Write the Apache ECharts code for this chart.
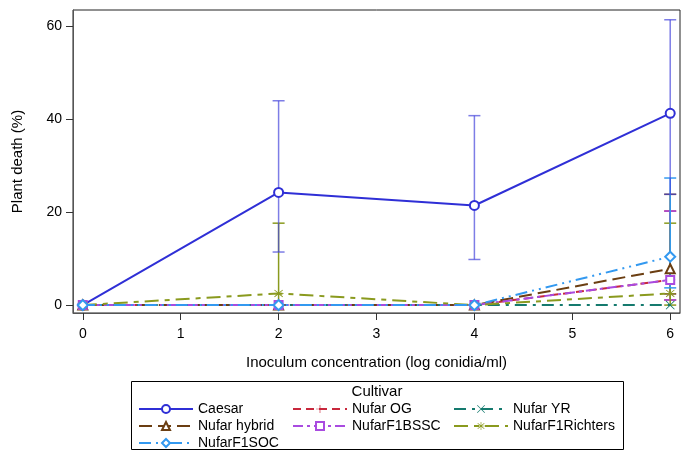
<!DOCTYPE html>
<html>
<head>
<meta charset="utf-8">
<script src="https://cdn.jsdelivr.net/npm/echarts@6/dist/echarts.min.js"></script>
<style>
  html, body { margin: 0; padding: 0; background: #fff; }
  #chart { width: 689px; height: 451px; }
</style>
</head>
<body>
<div id="chart"></div>
<script>
// inoculum concentration (log conidia/ml)
var doses = [0, 2, 4, 6];
var xTicks = [0, 1, 2, 3, 4, 5, 6];
var yTicks = [0, 20, 40, 60];

// plant death (%) per cultivar
var caesar    = [0, 24.2, 21.4, 41.2];
var nufarOG   = [0, 0, 0, 5.4];
var nufarYR   = [0, 0, 0, 0];
var hybrid    = [0, 0, 0, 7.8];
var f1BSSC    = [0, 0, 0, 5.4];
var f1Richt   = [0, 2.5, 0, 2.5];
var f1SOC     = [0, 0, 0, 10.4];

// error bars (lower / upper), null = none
var caesarLo  = [null, 11.4, 9.8, 23.8];
var caesarHi  = [null, 43.9, 40.7, 61.3];
var ogLo      = [null, null, null, 1.1];
var ogHi      = [null, null, null, 20.2];
var hybridLo  = [null, null, null, 2.4];
var hybridHi  = [null, null, null, 23.8];
var bsscLo    = [null, null, null, 1.1];
var bsscHi    = [null, null, null, 20.2];
var richtLo   = [null, 0, null, 0];
var richtHi   = [null, 17.6, null, 17.6];
var socLo     = [null, null, null, 3.7];
var socHi     = [null, null, null, 27.3];

var plusPath = 'path://M4.6,0 h0.8 v4.6 h4.6 v0.8 h-4.6 v4.6 h-0.8 v-4.6 h-4.6 v-0.8 h4.6 z';
var xPath = 'path://M0.6,0 L5,4.4 L9.4,0 L10,0.6 L5.6,5 L10,9.4 L9.4,10 L5,5.6 L0.6,10 L0,9.4 L4.4,5 L0,0.6 z';
var starPath = 'path://M4.6,0 h0.8 v4 L8.9,1.3 L9.4,1.9 L6.1,4.6 H10 v0.8 H6.1 L9.4,8.1 L8.9,8.7 L5.4,6 V10 h-0.8 V6 L1.1,8.7 L0.6,8.1 L3.9,5.4 H0 v-0.8 H3.9 L0.6,1.9 L1.1,1.3 L4.6,4 z';

var cultivars = [
  { name: 'Caesar', y: caesar, lo: caesarLo, hi: caesarHi, color: '#2F2FD6', dash: 'solid', symbol: 'emptyCircle', size: 9, bw: 1.2, errColor: 'rgba(70,70,220,0.7)', errZ: 1.5 },
  { name: 'Nufar OG', y: nufarOG, lo: ogLo, hi: ogHi, color: '#C8283C', dash: [8, 5], symbol: plusPath, size: 10, bw: 0 },
  { name: 'Nufar YR', y: nufarYR, lo: [null, null, null, null], hi: [null, null, null, null], color: '#157A6E', dash: [12, 6, 3, 6], symbol: xPath, size: 9, bw: 0 },
  { name: 'Nufar hybrid', y: hybrid, lo: hybridLo, hi: hybridHi, color: '#6B3E12', dash: [13, 6], symbol: 'emptyTriangle', size: 9, bw: 1.2 },
  { name: 'NufarF1BSSC', y: f1BSSC, lo: bsscLo, hi: bsscHi, color: '#A94BE0', dash: [10, 4, 3, 4], symbol: 'emptyRect', size: 8, bw: 1.2 },
  { name: 'NufarF1Richters', y: f1Richt, lo: richtLo, hi: richtHi, color: '#8A9A1E', dash: [14, 6, 5, 6], symbol: starPath, size: 10, bw: 0 },
  { name: 'NufarF1SOC', y: f1SOC, lo: socLo, hi: socHi, color: '#3399F0', dash: [12, 5, 2, 5, 2, 5], symbol: 'emptyDiamond', size: 10, bw: 1.2 }
];

var series = [];
cultivars.forEach(function (c) {
  var errData = [];
  for (var i = 0; i < doses.length; i++) {
    if (c.lo[i] !== null && c.hi[i] !== null) errData.push([doses[i], c.lo[i], c.hi[i]]);
  }
  series.push({
    name: c.name + ' err',
    type: 'custom',
    z: c.errZ || 1,
    renderItem: function (params, api) {
      var top = api.coord([api.value(0), api.value(2)]);
      var bot = api.coord([api.value(0), api.value(1)]);
      var w = 6;
      var st = { stroke: c.errColor || c.color, lineWidth: 1.5 };
      return {
        type: 'group',
        children: [
          { type: 'line', shape: { x1: top[0], y1: top[1], x2: bot[0], y2: bot[1] }, style: st },
          { type: 'line', shape: { x1: top[0] - w, y1: top[1], x2: top[0] + w, y2: top[1] }, style: st },
          { type: 'line', shape: { x1: bot[0] - w, y1: bot[1], x2: bot[0] + w, y2: bot[1] }, style: st }
        ]
      };
    },
    data: errData,
    silent: true
  });
});
cultivars.forEach(function (c, k) {
  var pts = doses.map(function (d, i) { return [d, c.y[i]]; });
  series.push({
    name: c.name,
    type: 'line',
    z: 2 + k,
    data: pts,
    symbol: c.symbol,
    symbolSize: c.size,
    showSymbol: true,
    lineStyle: { color: c.color, width: 2, type: c.dash },
    itemStyle: { color: c.color, borderColor: c.color, borderWidth: c.bw }
  });
});

var chart = echarts.init(document.getElementById('chart'));
var legendBase = {
  orient: 'vertical',
  top: 402,
  padding: 0,
  itemWidth: 54,
  itemHeight: 10,
  itemGap: 3,
  textStyle: { fontSize: 14, color: '#000', fontFamily: 'Liberation Sans, Arial, sans-serif', lineHeight: 14 }
};
chart.setOption({
  animation: false,
  textStyle: { fontFamily: 'Liberation Sans, Arial, sans-serif' },
  grid: { left: 73, right: 9, top: 10, bottom: 138, show: true, borderColor: '#222', borderWidth: 1 },
  xAxis: {
    type: 'value',
    min: -0.1,
    max: 6.1,
    name: 'Inoculum concentration (log conidia/ml)',
    nameLocation: 'middle',
    nameGap: 42,
    nameTextStyle: { fontSize: 15, color: '#000' },
    axisLine: { show: true, onZero: false, lineStyle: { color: '#555', width: 1 } },
    axisTick: { show: true, length: 7, lineStyle: { color: '#333' }, customValues: xTicks },
    axisLabel: { fontSize: 14, color: '#000', margin: 14, customValues: xTicks },
    splitLine: { show: false }
  },
  yAxis: {
    type: 'value',
    min: -1.7,
    max: 63.4,
    name: 'Plant death (%)',
    nameLocation: 'middle',
    nameGap: 48,
    nameTextStyle: { fontSize: 15, color: '#000' },
    axisLine: { show: true, onZero: false, lineStyle: { color: '#555', width: 1 } },
    axisTick: { show: true, length: 7, lineStyle: { color: '#333' }, customValues: yTicks },
    axisLabel: { fontSize: 14, color: '#000', margin: 11, customValues: yTicks },
    splitLine: { show: false }
  },
  legend: [
    Object.assign({}, legendBase, { left: 138, data: ['Caesar', 'Nufar hybrid', 'NufarF1SOC'] }),
    Object.assign({}, legendBase, { left: 292, data: ['Nufar OG', 'NufarF1BSSC'] }),
    Object.assign({}, legendBase, { left: 453, data: ['Nufar YR', 'NufarF1Richters'] })
  ],
  graphic: [
    { type: 'rect', shape: { x: 131.5, y: 381.5, width: 492, height: 68 }, style: { fill: 'none', stroke: '#000', lineWidth: 1 } },
    { type: 'text', x: 377, y: 392, style: { text: 'Cultivar', fontSize: 15, fill: '#000', align: 'center', verticalAlign: 'middle', fontFamily: 'Liberation Sans, Arial, sans-serif' } }
  ],
  series: series
});
</script>
</body>
</html>
